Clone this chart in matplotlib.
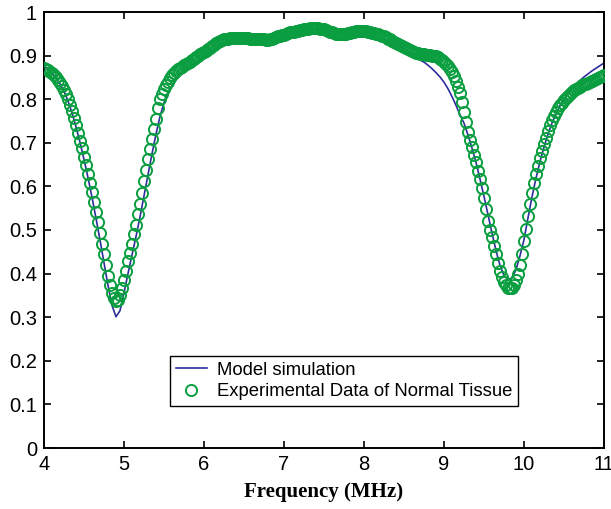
import numpy as np
import matplotlib
matplotlib.use("Agg")
import matplotlib.pyplot as plt
from matplotlib.ticker import FuncFormatter, MultipleLocator

# Experimental transmission data, sampled every 0.025 MHz from 4 to 11 MHz
exp_freq = np.round(np.arange(4.0, 11.0001, 0.025), 3)
exp_values = [
    0.872, 0.869, 0.866, 0.863, 0.860, 0.855, 0.850, 0.844, 0.838, 0.830,
    0.822, 0.811, 0.800, 0.786, 0.772, 0.756, 0.740, 0.723, 0.705, 0.687,
    0.668, 0.648, 0.628, 0.608, 0.587, 0.565, 0.542, 0.518, 0.493, 0.469,
    0.444, 0.420, 0.395, 0.374, 0.355, 0.343, 0.338, 0.340, 0.352, 0.366,
    0.385, 0.406, 0.428, 0.448, 0.468, 0.490, 0.512, 0.536, 0.560, 0.586,
    0.612, 0.637, 0.662, 0.685, 0.708, 0.732, 0.755, 0.780, 0.800, 0.813,
    0.823, 0.832, 0.840, 0.848, 0.855, 0.860, 0.865, 0.869, 0.872, 0.875,
    0.878, 0.880, 0.883, 0.886, 0.890, 0.893, 0.897, 0.900, 0.903, 0.905,
    0.908, 0.911, 0.915, 0.918, 0.922, 0.925, 0.928, 0.931, 0.933, 0.935,
    0.937, 0.938, 0.939, 0.940, 0.940, 0.940, 0.940, 0.940, 0.940, 0.941,
    0.941, 0.941, 0.940, 0.939, 0.938, 0.937, 0.937, 0.937, 0.938, 0.938,
    0.937, 0.936, 0.936, 0.937, 0.938, 0.940, 0.942, 0.944, 0.946, 0.947,
    0.948, 0.950, 0.951, 0.953, 0.954, 0.955, 0.956, 0.957, 0.958, 0.959,
    0.960, 0.961, 0.962, 0.963, 0.963, 0.963, 0.963, 0.963, 0.962, 0.961,
    0.960, 0.959, 0.957, 0.955, 0.953, 0.951, 0.950, 0.949, 0.949, 0.949,
    0.949, 0.950, 0.951, 0.952, 0.954, 0.955, 0.956, 0.957, 0.957, 0.957,
    0.957, 0.956, 0.955, 0.954, 0.952, 0.951, 0.950, 0.949, 0.948, 0.946,
    0.944, 0.942, 0.939, 0.937, 0.934, 0.932, 0.930, 0.927, 0.925, 0.922,
    0.920, 0.917, 0.915, 0.912, 0.910, 0.908, 0.906, 0.905, 0.904, 0.903,
    0.903, 0.902, 0.902, 0.901, 0.900, 0.899, 0.898, 0.896, 0.893, 0.890,
    0.886, 0.881, 0.876, 0.869, 0.862, 0.853, 0.842, 0.829, 0.815, 0.794,
    0.770, 0.748, 0.725, 0.707, 0.690, 0.673, 0.655, 0.636, 0.617, 0.596,
    0.574, 0.548, 0.520, 0.501, 0.483, 0.464, 0.444, 0.424, 0.405, 0.392,
    0.380, 0.373, 0.368, 0.366, 0.368, 0.374, 0.385, 0.400, 0.420, 0.446,
    0.475, 0.503, 0.532, 0.560, 0.585, 0.607, 0.628, 0.646, 0.664, 0.681,
    0.697, 0.712, 0.726, 0.740, 0.752, 0.762, 0.771, 0.779, 0.786, 0.792,
    0.798, 0.803, 0.808, 0.812, 0.816, 0.820, 0.823, 0.826, 0.829, 0.832,
    0.834, 0.836, 0.838, 0.840, 0.842, 0.844, 0.846, 0.848, 0.851, 0.853,
    0.855,
]

# Model simulation, sampled every 0.05 MHz
model_freq = np.round(np.arange(4.0, 11.0001, 0.05), 2)
model_values = [
    0.876, 0.869, 0.860, 0.849, 0.835, 0.818, 0.796, 0.769, 0.737, 0.701,
    0.662, 0.620, 0.575, 0.527, 0.477, 0.425, 0.373, 0.327, 0.301, 0.315,
    0.356, 0.400, 0.442, 0.485, 0.530, 0.578, 0.627, 0.675, 0.720, 0.760,
    0.792, 0.815, 0.832, 0.845, 0.855, 0.863, 0.870, 0.877, 0.884, 0.891,
    0.898, 0.905, 0.912, 0.918, 0.923, 0.928, 0.932, 0.935, 0.937, 0.939,
    0.940, 0.940, 0.940, 0.940, 0.940, 0.940, 0.941, 0.942, 0.944, 0.946,
    0.948, 0.950, 0.952, 0.954, 0.956, 0.957, 0.958, 0.959, 0.959, 0.959,
    0.958, 0.957, 0.955, 0.953, 0.952, 0.951, 0.951, 0.951, 0.951, 0.951,
    0.950, 0.949, 0.947, 0.945, 0.942, 0.939, 0.935, 0.931, 0.928, 0.923,
    0.917, 0.911, 0.904, 0.897, 0.890, 0.885, 0.878, 0.870, 0.861, 0.851,
    0.839, 0.824, 0.806, 0.786, 0.764, 0.745, 0.718, 0.688, 0.655, 0.617,
    0.577, 0.535, 0.493, 0.453, 0.419, 0.396, 0.386, 0.390, 0.409, 0.441,
    0.478, 0.528, 0.576, 0.619, 0.657, 0.690, 0.720, 0.745, 0.767, 0.785,
    0.800, 0.813, 0.824, 0.834, 0.843, 0.851, 0.858, 0.865, 0.871, 0.877,
    0.883,
]

x_ticks = [4, 5, 6, 7, 8, 9, 10, 11]

line_color = "#2e2e9c"
marker_color = "#0a9e40"

plt.rcParams["font.family"] = ["Liberation Sans", "DejaVu Sans"]

fig = plt.figure(figsize=(6.11, 5.09), dpi=100)
ax = fig.add_axes([44 / 611, 61 / 509, 560 / 611, 436 / 509])

ax.plot(model_freq, model_values, color=line_color, linewidth=1.2,
        label="Model simulation", zorder=2)
ax.plot(exp_freq, exp_values, linestyle="none", marker="o", markersize=8,
        markerfacecolor="none", markeredgecolor=marker_color,
        markeredgewidth=1.4, label="Experimental Data of Normal Tissue",
        zorder=3)

ax.set_xlim(4, 11)
ax.set_ylim(0, 1)
ax.set_xticks(x_ticks)
ax.yaxis.set_major_locator(MultipleLocator(0.1))
ax.yaxis.set_major_formatter(FuncFormatter(lambda v, _: f"{v:g}"))

ax.tick_params(direction="in", length=5, width=1.2, labelsize=14.5,
               top=True, right=True, pad=5)
for spine in ax.spines.values():
    spine.set_linewidth(1.4)

ax.set_xlabel("Frequency (MHz)", family=["Liberation Serif", "DejaVu Serif"],
              fontweight="bold", fontsize=15, labelpad=6)

leg = ax.legend(loc="upper left", bbox_to_anchor=(0.225, 0.211),
                fontsize=13.3, frameon=True, fancybox=False, framealpha=1,
                edgecolor="black", borderpad=0.3, handlelength=1.7,
                handletextpad=0.55, labelspacing=0.25, borderaxespad=0)
leg.get_frame().set_linewidth(1.0)

fig.savefig("out.png", dpi=100)
